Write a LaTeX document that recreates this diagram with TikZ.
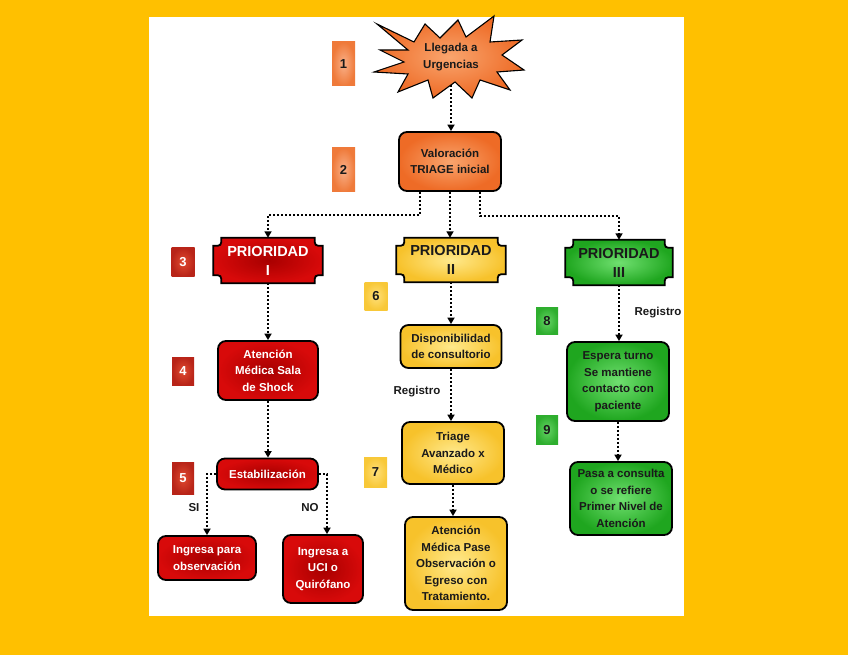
\documentclass[tikz,border=0pt]{standalone}
\usepackage{fontspec}
\setmainfont{Liberation Sans}
\usetikzlibrary{arrows.meta,calc,backgrounds}
\definecolor{bgyellow}{HTML}{FFC000}
\definecolor{orangeD}{HTML}{EE6B26}
\definecolor{orangeL}{HTML}{F9A56E}
\definecolor{redD}{HTML}{D80A0A}
\definecolor{redC}{HTML}{A80000}
\definecolor{yelD}{HTML}{F7C22B}
\definecolor{yelL}{HTML}{FFE98C}
\definecolor{grnD}{HTML}{1FA61F}
\definecolor{grnL}{HTML}{70E070}
\definecolor{nOrD}{HTML}{EF7A3A}
\definecolor{nOrL}{HTML}{F9B088}
\definecolor{nRedD}{HTML}{B82418}
\definecolor{nRedL}{HTML}{E04A30}
\definecolor{nYelD}{HTML}{F8C838}
\definecolor{nYelL}{HTML}{FFE07A}
\definecolor{nGrnD}{HTML}{2EAE2E}
\definecolor{nGrnL}{HTML}{66D466}
\definecolor{txtdark}{HTML}{1A1A1A}
\tikzset{
  box/.style={draw=black, line width=1.8pt, rounded corners=8pt, align=center,
    font=\bfseries\fontsize{11.5}{16.5}\selectfont, inner sep=2pt},
  obox/.style={box, inner color=orangeL, outer color=orangeD, text=txtdark},
  rbox/.style={box, inner color=redC, outer color=redD, text=white},
  ybox/.style={box, inner color=yelL, outer color=yelD, text=txtdark},
  gbox/.style={box, inner color=grnL, outer color=grnD, text=txtdark},
  startxt/.style={align=center, inner sep=2pt, text=txtdark,
    font=\bfseries\fontsize{11.5}{16.5}\selectfont},
  plq/.style={align=center, inner sep=0pt, font=\bfseries\fontsize{14.5}{19}\selectfont},
  plqline/.style={draw=black, line width=1.8pt},
  num/.style={inner sep=0pt, font=\bfseries\fontsize{13}{13}\selectfont},
  lbl/.style={inner sep=1pt, font=\bfseries\fontsize{11.5}{13}\selectfont, text=txtdark},
  conn/.style={draw=black, line width=2pt, dash pattern=on 2pt off 2pt,
    -{Triangle[length=6.5pt,width=7pt]}},
  starst/.style={draw=black, line width=1.1pt, inner color=orangeL, outer color=orangeD},
}
\newcommand\plaquepath[2]{%
  \path[#2] ($(#1.north west)+(8,0)$) -- ($(#1.north east)+(-8,0)$)
    .. controls ($(#1.north east)+(-8,8)$) .. ($(#1.north east)+(0,8)$)
    -- ($(#1.south east)+(0,-8)$)
    .. controls ($(#1.south east)+(-8,-8)$) .. ($(#1.south east)+(-8,0)$)
    -- ($(#1.south west)+(8,0)$)
    .. controls ($(#1.south west)+(8,-8)$) .. ($(#1.south west)+(0,-8)$)
    -- ($(#1.north west)+(0,8)$)
    .. controls ($(#1.north west)+(8,8)$) .. ($(#1.north west)+(8,0)$) -- cycle;
}
\begin{document}
\begin{tikzpicture}[x=1pt,y=-1pt]
\useasboundingbox (0,0) rectangle (848,655);
\begin{pgfonlayer}{background}
\fill[bgyellow] (0,0) rectangle (848,655);
\fill[white] (149,17) rectangle (684,616);
\end{pgfonlayer}

% star
\path[starst] (377,24) -- (414,42) -- (425,24) -- (440,38) -- (458,20) -- (466,37)
  -- (494,16) -- (490,42) -- (522,40) -- (502,55) -- (524,70) -- (497,72)
  -- (510,90) -- (480,80) -- (472,98) -- (455,82) -- (433,98) -- (428,80)
  -- (398,92) -- (408,74) -- (374,72) -- (404,62) -- (380,50) -- (408,50) -- cycle;
\node[startxt, minimum height=56] (star) at (451,57) {Llegada a\\Urgencias};

% number boxes
\node[num, inner color=nOrL, outer color=nOrD, text=txtdark, minimum width=23, minimum height=44] (n1) at (343.5,64) {1};
\node[num, inner color=nOrL, outer color=nOrD, text=txtdark, minimum width=23, minimum height=44] (n2) at (343.5,170) {2};
\node[num, inner color=nRedL, outer color=nRedD, text=white, minimum width=23, minimum height=29] (n3) at (183,262) {3};
\node[num, inner color=nRedL, outer color=nRedD, text=white, minimum width=22, minimum height=28] (n4) at (183,371) {4};
\node[num, inner color=nRedL, outer color=nRedD, text=white, minimum width=22, minimum height=32] (n5) at (183,478) {5};
\node[num, inner color=nYelL, outer color=nYelD, text=txtdark, minimum width=23, minimum height=28] (n6) at (376,296) {6};
\node[num, inner color=nYelL, outer color=nYelD, text=txtdark, minimum width=23, minimum height=30] (n7) at (375.5,472) {7};
\node[num, inner color=nGrnL, outer color=nGrnD, text=txtdark, minimum width=22, minimum height=27] (n8) at (547,321) {8};
\node[num, inner color=nGrnL, outer color=nGrnD, text=txtdark, minimum width=22, minimum height=29] (n9) at (547,430) {9};

% main boxes
\node[obox, minimum width=102, minimum height=59] (val) at (450,161.5) {Valoración\\TRIAGE inicial};

\node[plq, text=white, minimum width=109, minimum height=45] (p1) at (268,260.5) {PRIORIDAD\\I};
\node[plq, text=txtdark, minimum width=109, minimum height=44] (p2) at (451,260) {PRIORIDAD\\II};
\node[plq, text=txtdark, minimum width=107, minimum height=45] (p3) at (619,262.5) {PRIORIDAD\\III};
\begin{pgfonlayer}{background}
\plaquepath{p1}{plqline, inner color=redC, outer color=redD}
\plaquepath{p2}{plqline, inner color=yelL, outer color=yelD}
\plaquepath{p3}{plqline, inner color=grnL, outer color=grnD}
\end{pgfonlayer}

\node[rbox, minimum width=100, minimum height=59] (at1) at (268,370.5) {Atención\\Médica Sala\\de Shock};
\node[rbox, minimum width=101, minimum height=31] (est) at (267.5,474) {Estabilización};
\node[rbox, minimum width=98, minimum height=44] (obs) at (207,558) {Ingresa para\\observación};
\node[rbox, minimum width=80, minimum height=68] (uci) at (323,569) {Ingresa a\\UCI o\\Quirófano};

\node[ybox, minimum width=101, minimum height=43] (disp) at (451,346.5) {Disponibilidad\\de consultorio};
\node[ybox, minimum width=102, minimum height=62] (tri) at (453,453) {Triage\\Avanzado x\\Médico};
\node[ybox, minimum width=102, minimum height=93] (att2) at (456,563.5) {Atención\\Médica Pase\\Observación o\\Egreso con\\Tratamiento.};

\node[gbox, minimum width=102, minimum height=79] (esp) at (618,381.5) {Espera turno\\Se mantiene\\contacto con\\paciente};
\node[gbox, minimum width=102, minimum height=73] (pas) at (621,498.5) {Pasa a consulta\\o se refiere\\Primer Nivel de\\Atención};

% labels
\node[lbl] (reg1) at (417,392) {Registro};
\node[lbl] (reg2) at (658,313) {Registro};
\node[lbl] (si) at (194,508) {SI};
\node[lbl] (no) at (310,508) {NO};

% connectors
\coordinate (jL) at (420,215);
\coordinate (jR) at (480,216);
\draw[conn] (star.south) -- (star.south |- val.north);
\draw[conn] (val.south -| jL) -- (jL) -| (p1.north);
\draw[conn] (val.south) -- (val.south |- p2.north);
\draw[conn] (val.south -| jR) -- (jR) -| (p3.north);
\draw[conn] (p1.south) -- (p1.south |- at1.north);
\draw[conn] (at1.south) -- (at1.south |- est.north);
\draw[conn] (est.west) -| (obs.north);
\draw[conn] (est.east) -| ([xshift=4]uci.north);
\draw[conn] (p2.south) -- (p2.south |- disp.north);
\draw[conn] (disp.south) -- (disp.south |- tri.north);
\draw[conn] (tri.south) -- (tri.south |- att2.north);
\draw[conn] (p3.south) -- (p3.south |- esp.north);
\draw[conn] (esp.south) -- (esp.south |- pas.north);
\end{tikzpicture}
\end{document}
